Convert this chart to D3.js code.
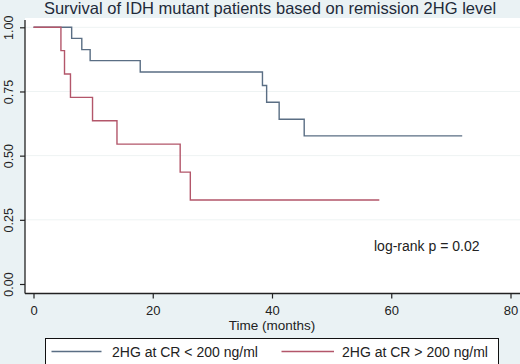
<!DOCTYPE html>
<html><head><meta charset="utf-8">
<script src="https://cdn.jsdelivr.net/npm/d3@7"></script>
<style>html,body{margin:0;padding:0;background:#eaf2f4;}svg{display:block;font-family:"Liberation Sans",Arial,sans-serif;}</style>
</head><body>
<svg id="c" width="520" height="364"></svg>
<script>
const title = "Survival of IDH mutant patients based on remission 2HG level";
const xTicks = [0, 20, 40, 60, 80];
const yTicks = [0, 0.25, 0.5, 0.75, 1];
const seriesNames = ["2HG at CR < 200 ng/ml", "2HG at CR > 200 ng/ml"];
const lowTimes = [0, 6.4, 8.1, 9.5, 17.9, 38.4, 39.1, 41.2, 45.4, 71.9];
const lowSurv  = [1, 0.957, 0.913, 0.870, 0.826, 0.773, 0.708, 0.642, 0.577, 0.577];
const highTimes = [0, 4.6, 5.2, 6.2, 9.9, 14.0, 24.6, 26.3, 58.0];
const highSurv  = [1, 0.909, 0.818, 0.727, 0.636, 0.545, 0.436, 0.327, 0.327];
const annotation = "log-rank p = 0.02";
const xLabel = "Time (months)";
const colors = ["#5a6e84", "#b3566a"];

const svg = d3.select("#c");
const x = d3.scaleLinear().domain([0, 80]).range([33.5, 510.5]);
const y = d3.scaleLinear().domain([0, 1]).range([284, 27.3]);

// plot region
svg.append("rect").attr("x", 25).attr("y", 18).attr("width", 495).attr("height", 275.5).attr("fill", "#ffffff");

// gridlines
svg.append("g").selectAll("line").data(yTicks.filter(d => d > 0)).join("line")
  .attr("x1", 25).attr("x2", 520).attr("y1", d => y(d)).attr("y2", d => y(d))
  .attr("stroke", "#eef3f3").attr("stroke-width", 1);

// title
svg.append("text").attr("x", 270).attr("y", 14).attr("text-anchor", "middle")
  .attr("font-size", 16.5).attr("fill", "#1e2a3a").text(title);

// y axis
const yAxis = d3.axisLeft(y).tickValues(yTicks).tickFormat(d3.format(".2f")).tickSize(5).tickPadding(4);
const gy = svg.append("g").attr("transform", "translate(25,0)").call(yAxis);
gy.select(".domain").attr("d", "M0,20V293.5").attr("stroke", "#222").attr("stroke-width", 1.3);
gy.selectAll(".tick line").attr("stroke", "#222").attr("stroke-width", 1.2);
gy.selectAll(".tick text").attr("font-size", 12.5).attr("fill", "#222")
  .attr("x", 0).attr("y", 0).attr("dy", "0.35em").attr("text-anchor", "middle")
  .attr("transform", "translate(-16,0) rotate(-90)");

// x axis
const xAxis = d3.axisBottom(x).tickValues(xTicks).tickSize(5).tickPadding(7);
const gx = svg.append("g").attr("transform", "translate(0,293.5)").call(xAxis);
gx.select(".domain").attr("d", "M25,0H520").attr("stroke", "#222").attr("stroke-width", 1.3);
gx.selectAll(".tick line").attr("stroke", "#222").attr("stroke-width", 1.2);
gx.selectAll(".tick text").attr("font-size", 13).attr("fill", "#222");

svg.append("text").attr("x", x(40)).attr("y", 330).attr("text-anchor", "middle")
  .attr("font-size", 13.5).attr("fill", "#222").text(xLabel);

// curves
const line = d3.line().x(d => x(d[0])).y(d => y(d[1])).curve(d3.curveStepAfter);
[[lowTimes, lowSurv], [highTimes, highSurv]].forEach(([t, s], i) => {
  svg.append("path").datum(t.map((v, j) => [v, s[j]]))
    .attr("d", line).attr("fill", "none").attr("stroke", colors[i]).attr("stroke-width", 1.4);
});

// annotation
svg.append("text").attr("x", 374).attr("y", 250.5).attr("font-size", 14).attr("fill", "#222").text(annotation);

// legend
svg.append("rect").attr("x", 45.5).attr("y", 338.5).attr("width", 453).attr("height", 26)
  .attr("fill", "#fff").attr("stroke", "#111").attr("stroke-width", 1);
const leg = [[51.5, 101.5, 112], [281.5, 334, 342]];
leg.forEach((p, i) => {
  svg.append("line").attr("x1", p[0]).attr("x2", p[1]).attr("y1", 351.5).attr("y2", 351.5)
    .attr("stroke", colors[i]).attr("stroke-width", 1.4);
  svg.append("text").attr("x", p[2]).attr("y", 356.5).attr("font-size", 14).attr("fill", "#222").text(seriesNames[i]);
});
</script>
</body></html>
